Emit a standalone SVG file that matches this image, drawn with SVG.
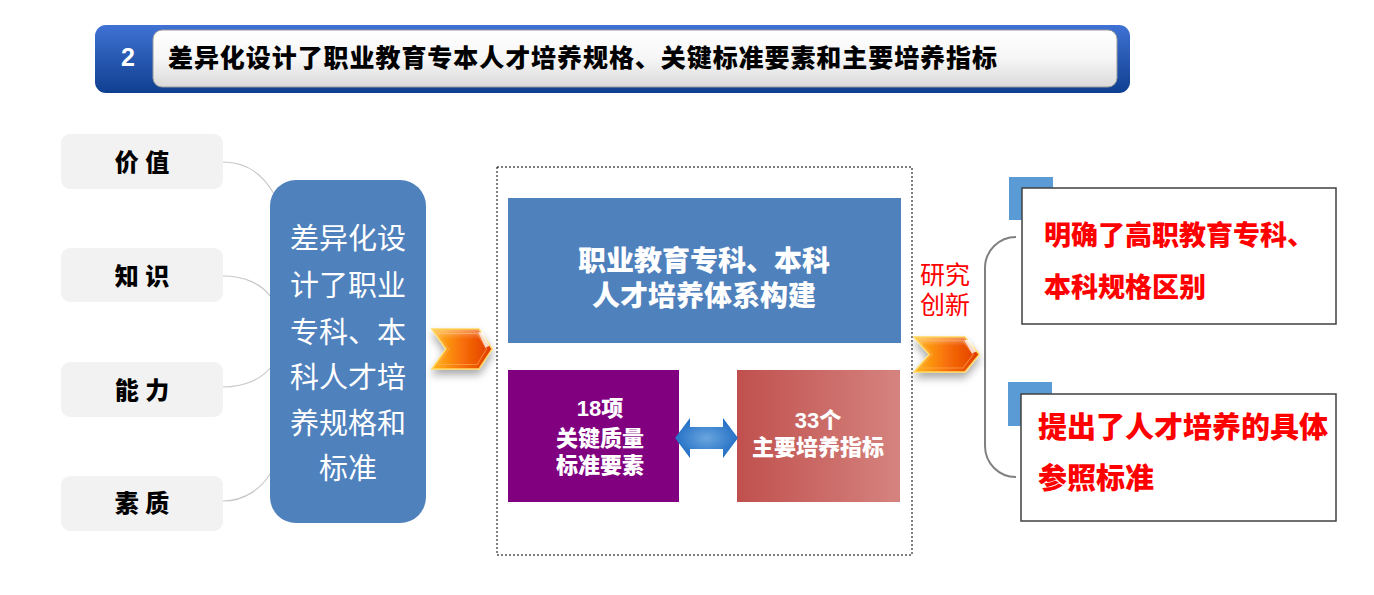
<svg xmlns="http://www.w3.org/2000/svg" width="1374" height="595" viewBox="0 0 1374 595">
<defs>
<style>
.cjk{font-family:"Liberation Sans","Noto Sans CJK SC",sans-serif}
.hv{font-weight:900}
.lbl{fill:#F2F2F2}
.lbltxt{font-size:24px;fill:#000;text-anchor:middle}
.conn{fill:none;stroke:#C8C8C8;stroke-width:1.2}
.wt{fill:#fff;text-anchor:middle}
.red{fill:#FF0000}
.acc{fill:#5B9BD5}
.rbox{fill:#fff;stroke:#404040;stroke-width:1.5}
</style>
<linearGradient id="hdr" x1="0" y1="0" x2="0" y2="1">
<stop offset="0" stop-color="#3F72D4"/><stop offset="1" stop-color="#0E3F8F"/>
</linearGradient>
<linearGradient id="hdrIn" x1="0" y1="0" x2="0" y2="1">
<stop offset="0" stop-color="#FFFFFF"/><stop offset="0.5" stop-color="#F6F6F6"/><stop offset="1" stop-color="#DADADA"/>
</linearGradient>
<linearGradient id="redg" x1="0" y1="0" x2="1" y2="0">
<stop offset="0" stop-color="#C0504D"/><stop offset="1" stop-color="#D5837F"/>
</linearGradient>
<radialGradient id="dbl" cx="0.5" cy="0.5" r="0.6">
<stop offset="0" stop-color="#6AA6DE"/><stop offset="1" stop-color="#1766C2"/>
</radialGradient>
<linearGradient id="chev" x1="0" y1="0" x2="1" y2="0">
<stop offset="0" stop-color="#FFB81A"/><stop offset="0.5" stop-color="#F87008"/><stop offset="1" stop-color="#E03A00"/>
</linearGradient>
<linearGradient id="chevHi" x1="0" y1="0" x2="0" y2="1">
<stop offset="0" stop-color="#FFFFFF" stop-opacity="0.35"/><stop offset="1" stop-color="#FFFFFF" stop-opacity="0"/>
</linearGradient>
<filter id="sh" x="-30%" y="-30%" width="160%" height="180%">
<feGaussianBlur in="SourceAlpha" stdDeviation="4"/>
<feOffset dx="0" dy="5" result="b"/>
<feComponentTransfer><feFuncA type="linear" slope="0.35"/></feComponentTransfer>
<feMerge><feMergeNode/><feMergeNode in="SourceGraphic"/></feMerge>
</filter>
<g id="chevron">
<path d="M0,0 L50,0 L64,18 L50,36 L0,36 L15,18 Z" fill="url(#chev)" stroke="#FFD966" stroke-width="1.5"/>
<path d="M6,4 L48,4 L58,18 L48,32 L6,32 L18,18 Z" fill="none" stroke="#FFB060" stroke-width="1" stroke-opacity="0.6"/>
<path d="M2,1 L50,1 L56,9 L8,9 Z" fill="url(#chevHi)"/>
<path d="M49,3 L54,3 L61,15 L57,17 Z" fill="#FFFFFF" fill-opacity="0.8"/>
</g>
</defs>
<rect width="1374" height="595" fill="#FFFFFF"/>

<g id="header">
<rect x="95" y="25" width="1035" height="68" rx="11" fill="url(#hdr)"/>
<rect x="153" y="30" width="964" height="57" rx="9" fill="url(#hdrIn)" stroke="#9A9A9A" stroke-width="1"/>
<text x="128" y="66" class="cjk" font-size="25" font-weight="bold" fill="#FFFFFF" text-anchor="middle">2</text>
<text x="168" y="67" class="cjk hv" font-size="25" fill="#000" textLength="829" lengthAdjust="spacing">差异化设计了职业教育专本人才培养规格、关键标准要素和主要培养指标</text>
</g>

<g id="connectors">
<path class="conn" d="M223,162 C250,162 265,178 274,194"/>
<path class="conn" d="M223,276 C246,276 262,285 270,296"/>
<path class="conn" d="M223,387 C246,387 262,378 270,368"/>
<path class="conn" d="M223,501 C246,501 262,487 270,474"/>
<path d="M1016,237 A31,31 0 0 0 985,268 L985,446 A31,31 0 0 0 1016,477" fill="none" stroke="#808080" stroke-width="2"/>
</g>

<g id="n-jiazhi"><rect class="lbl" x="61" y="134" width="162" height="55" rx="9"/><text class="cjk hv lbltxt" x="142" y="171" xml:space="preserve">价 值</text></g>
<g id="n-zhishi"><rect class="lbl" x="61" y="248" width="162" height="54" rx="9"/><text class="cjk hv lbltxt" x="142" y="285" xml:space="preserve">知 识</text></g>
<g id="n-nengli"><rect class="lbl" x="61" y="362" width="162" height="55" rx="9"/><text class="cjk hv lbltxt" x="142" y="399" xml:space="preserve">能 力</text></g>
<g id="n-suzhi"><rect class="lbl" x="61" y="476" width="162" height="55" rx="9"/><text class="cjk hv lbltxt" x="142" y="512" xml:space="preserve">素 质</text></g>

<g id="n-main">
<rect x="270" y="180" width="156" height="343" rx="26" fill="#4F81BD"/>
<g class="cjk wt" font-size="29">
<text x="348" y="249">差异化设</text>
<text x="348" y="296">计了职业</text>
<text x="348" y="343">专科、本</text>
<text x="348" y="388">科人才培</text>
<text x="348" y="434">养规格和</text>
<text x="348" y="479">标准</text>
</g>
</g>

<g id="arrow-left" filter="url(#sh)"><use href="#chevron" transform="translate(432,329) scale(0.94,1.11)"/></g>

<g id="n-center">
<rect x="497" y="167" width="415" height="388" fill="none" stroke="#000" stroke-width="1" stroke-dasharray="2,2"/>
<rect x="508" y="198" width="393" height="145" fill="#4F81BD"/>
<g class="cjk hv wt" font-size="28">
<text x="704" y="271">职业教育专科、本科</text>
<text x="704" y="306">人才培养体系构建</text>
</g>
</g>

<g id="n-18">
<rect x="508" y="370" width="171" height="132" fill="#800080"/>
<g class="cjk hv wt" font-size="22">
<text x="600" y="416">18项</text>
<text x="600" y="446">关键质量</text>
<text x="600" y="473">标准要素</text>
</g>
</g>

<g id="n-33">
<rect x="737" y="370" width="163" height="132" fill="url(#redg)"/>
<g class="cjk hv wt" font-size="22">
<text x="818" y="428">33个</text>
<text x="818" y="455">主要培养指标</text>
</g>
</g>

<g id="double-arrow">
<path d="M675,438 L690,418 L690,427 L723,427 L723,418 L738,438 L723,458 L723,449 L690,449 L690,458 Z" fill="url(#dbl)"/>
</g>

<g id="n-yanjiu">
<g class="cjk red" font-size="25" text-anchor="middle">
<text x="945" y="284">研究</text>
<text x="945" y="314">创新</text>
</g>
</g>

<g id="arrow-right" filter="url(#sh)"><use href="#chevron" transform="translate(914,337) scale(1.02,0.97)"/></g>

<g id="n-result1">
<rect class="acc" x="1009" y="177" width="44" height="43"/>
<rect class="rbox" x="1022" y="188" width="314" height="136"/>
<g class="cjk hv red" font-size="27">
<text x="1044" y="245">明确了高职教育专科、</text>
<text x="1044" y="297">本科规格区别</text>
</g>
</g>

<g id="n-result2">
<rect class="acc" x="1008" y="382" width="44" height="44"/>
<rect class="rbox" x="1021" y="394" width="315" height="127"/>
<g class="cjk hv red" font-size="29">
<text x="1038" y="438">提出了人才培养的具体</text>
<text x="1038" y="489">参照标准</text>
</g>
</g>
</svg>
